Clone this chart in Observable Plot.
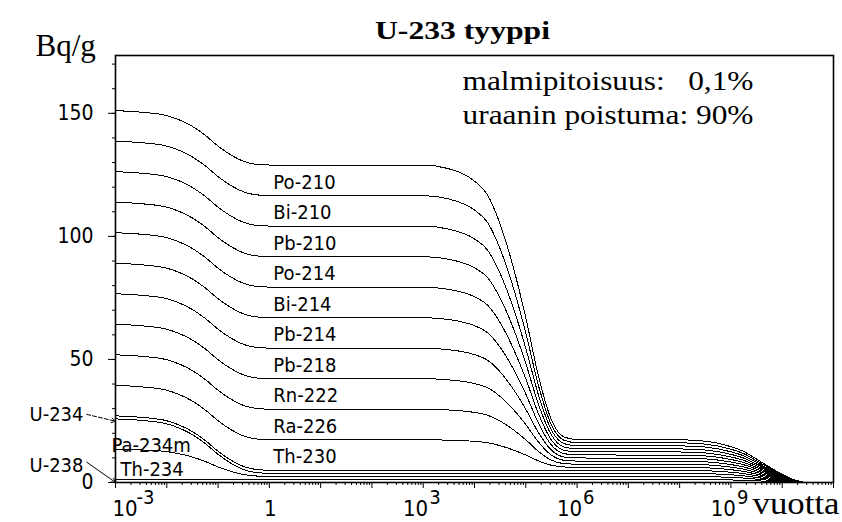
<!DOCTYPE html>
<html><head><meta charset="utf-8">
<script src="https://cdn.jsdelivr.net/npm/d3@7"></script>
<script src="https://cdn.jsdelivr.net/npm/@observablehq/plot@0.6"></script>
<style>body{margin:0;background:#fff} svg{display:block}</style>
</head><body><div id="chart"></div>
<script>
// time points (years)
const years = [1e-3, 3.16e-3, 1e-2, 1.78e-2, 3.16e-2, 5.62e-2, 0.1, 0.178, 0.316, 0.562,
  1, 10, 100, 1e3, 3.16e3, 1e4, 1.78e4, 3.16e4, 5.62e4, 1e5, 1.78e5, 3.16e5, 5.62e5,
  1e6, 1e7, 1e8, 3.16e8, 1e9, 1.78e9, 3.16e9, 5.62e9, 1e10, 1.78e10, 3.16e10, 1e11];
// activity (Bq/g) of U-238 and U-234
const uranium = [1.24, 1.24, 1.24, 1.24, 1.24, 1.24, 1.24, 1.24, 1.24, 1.24,
  1.24, 1.24, 1.24, 1.24, 1.24, 1.24, 1.24, 1.24, 1.24, 1.24, 1.24, 1.24, 1.24,
  1.24, 1.24, 1.24, 1.20, 1.04, 0.90, 0.68, 0.45, 0.24, 0.07, 0, 0];
// activity of Th-234 and Pa-234m
const thorium234 = [12.3, 12.0, 11.3, 10.4, 9.1, 7.3, 5.1, 3.3, 2.0, 1.4,
  1.26, 1.24, 1.24, 1.24, 1.24, 1.24, 1.24, 1.24, 1.24, 1.24, 1.24, 1.24, 1.24,
  1.24, 1.24, 1.24, 1.20, 1.04, 0.90, 0.68, 0.45, 0.24, 0.07, 0, 0];
// activity of each nuclide from Th-230 to Po-210
const thorium230Chain = [12.4, 12.4, 12.4, 12.4, 12.4, 12.4, 12.4, 12.4, 12.4, 12.4,
  12.4, 12.4, 12.4, 12.4, 12.25, 11.75, 11.2, 10.0, 8.3, 6.2, 3.8, 2.05, 1.35,
  1.25, 1.24, 1.24, 1.20, 1.04, 0.90, 0.68, 0.45, 0.24, 0.07, 0, 0];
// stacking order, bottom to top
const nuclides = ["U-238", "Th-234", "Pa-234m", "U-234", "Th-230", "Ra-226", "Rn-222",
  "Pb-218", "Pb-214", "Bi-214", "Po-214", "Pb-210", "Bi-210", "Po-210"];
const plateauLabels = ["Th-230", "Ra-226", "Rn-222", "Pb-218", "Pb-214", "Bi-214",
  "Po-214", "Pb-210", "Bi-210", "Po-210"];
const yTickValues = [0, 50, 100, 150];
const xLabelExponents = [-3, 0, 3, 6, 9];
const title = "U-233 tyyppi";
const infoLines = ["malmipitoisuus:\u00a0\u00a0\u00a00,1%", "uraanin poistuma: 90%"];
const yUnit = "Bq/g";
const xUnit = "vuotta";

const SANS = "'DejaVu Sans Condensed', 'DejaVu Sans', sans-serif";
const SERIF = "'Liberation Serif', 'Times New Roman', serif";

const seriesOf = {"U-238": uranium, "Th-234": thorium234, "Pa-234m": thorium234, "U-234": uranium};
const rows = nuclides.flatMap(name =>
  (seriesOf[name] || thorium230Chain).map((v, i) => ({name, t: years[i], v})));

const t0 = years[0];
const firstRows = rows.filter(d => d.t === t0);
const plateauRows = rows.filter(d => d.t === 1);
const cumAt0 = name => d3.sum(firstRows.slice(0, nuclides.indexOf(name) + 1), d => d.v);

const decades = d3.range(-3, 12).map(e => 10 ** e);
const minorX = d3.range(-3, 11).flatMap(e => d3.range(2, 10).map(k => k * 10 ** e));
const xLabels = xLabelExponents.map(e => ({t: 10 ** e, base: e === 0 ? "1" : "10", exp: e === 0 ? "" : String(e)}));
const firstLabel = xLabels.filter(d => d.t === t0);
const otherLabels = xLabels.filter(d => d.t !== t0 && d.base === "10");
const oneLabel = xLabels.filter(d => d.base === "1");

const plot = Plot.plot({
  width: 842, height: 522,
  marginLeft: 115, marginRight: 9, marginTop: 55, marginBottom: 40,
  style: {background: "white", color: "black", fontFamily: SANS, overflow: "visible"},
  x: {type: "log", domain: [1e-3, 1e11]},
  y: {domain: [0, 173.5]},
  marks: [
    Plot.axisY({ticks: d3.range(0, 171, 10), tickSize: 3, tickFormat: () => "", label: null}),
    Plot.axisY({ticks: yTickValues, tickSize: 7, tickPadding: 15, fontSize: 21, label: null}),
    Plot.axisX({ticks: minorX, tickSize: 3, tickFormat: () => "", label: null}),
    Plot.axisX({ticks: decades, tickSize: 6, tickFormat: () => "", label: null}),
    Plot.lineY(rows, Plot.stackY2({x: "t", y: "v", z: "name", curve: "monotone-x",
      stroke: "black", strokeWidth: 1, shapeRendering: "crispEdges"})),
    // plateau labels
    Plot.text(plateauRows, Plot.stackY({x: "t", y: "v", z: "name",
      text: d => plateauLabels.includes(d.name) ? d.name : null,
      textAnchor: "start", dx: 4, dy: 2, fontSize: 20})),
    Plot.text(firstRows, Plot.stackY({x: "t", y: "v", z: "name",
      text: d => d.name === "Pa-234m" ? d.name : null, textAnchor: "start", dx: -4, dy: 12, fontSize: 20})),
    Plot.text(firstRows, Plot.stackY({x: "t", y: "v", z: "name",
      text: d => d.name === "Th-234" ? d.name : null, textAnchor: "start", dx: 5, dy: 5, fontSize: 20})),
    // left annotations with arrows
    Plot.text([{t: t0, y: cumAt0("U-234"), s: "U-234"}], {x: "t", y: "y", text: "s", textAnchor: "end", dx: -32, dy: -1, fontSize: 20}),
    Plot.text([{t: t0, y: cumAt0("U-238"), s: "U-238"}], {x: "t", y: "y", text: "s", textAnchor: "end", dx: -32, dy: -14, fontSize: 20}),
    Plot.arrow([{t: t0, y: cumAt0("U-234")}], {x1: d => d.t / 10 ** 0.56, y1: d => d.y + 0.6, x2: "t", y2: d => d.y - 2.2,
      stroke: "black", strokeWidth: 1, headLength: 7, strokeDasharray: "4,2"}),
    Plot.arrow([{t: t0, y: cumAt0("U-238")}], {x1: d => d.t / 10 ** 0.56, y1: d => d.y + 7, x2: "t", y2: d => d.y - 1.2,
      stroke: "black", strokeWidth: 1, headLength: 7}),
    // x tick labels
    Plot.text(firstLabel, {x: "t", text: "base", frameAnchor: "bottom", textAnchor: "start", lineAnchor: "bottom", dx: -3, dy: 33, fontSize: 22}),
    Plot.text(firstLabel, {x: "t", text: "exp", frameAnchor: "bottom", textAnchor: "start", lineAnchor: "bottom", dx: 21, dy: 21, fontSize: 20}),
    Plot.text(otherLabels, {x: "t", text: "base", frameAnchor: "bottom", textAnchor: "end", lineAnchor: "bottom", dx: 5, dy: 33, fontSize: 22}),
    Plot.text(otherLabels, {x: "t", text: "exp", frameAnchor: "bottom", textAnchor: "start", lineAnchor: "bottom", dx: 6, dy: 21, fontSize: 20}),
    Plot.text(oneLabel, {x: "t", text: "base", frameAnchor: "bottom", textAnchor: "middle", lineAnchor: "bottom", dx: 1, dy: 33, fontSize: 22}),
    // serif texts
    Plot.text([title], {frameAnchor: "top", dx: -12, dy: -17, lineAnchor: "bottom", fontFamily: SERIF, fontWeight: "bold", fontSize: 26}),
    Plot.text([infoLines[0]], {frameAnchor: "top-left", textAnchor: "start", lineAnchor: "bottom", dx: 347, dy: 34, fontFamily: SERIF, fontSize: 28}),
    Plot.text([infoLines[1]], {frameAnchor: "top-left", textAnchor: "start", lineAnchor: "bottom", dx: 347, dy: 68, fontFamily: SERIF, fontSize: 28}),
    Plot.text([yUnit], {frameAnchor: "top-left", textAnchor: "start", lineAnchor: "bottom", dx: -80, dy: 0, fontFamily: SERIF, fontSize: 31}),
    Plot.text([xUnit], {frameAnchor: "bottom-right", textAnchor: "start", lineAnchor: "bottom", dx: -81, dy: 31, fontFamily: SERIF, fontSize: 32}),
    Plot.frame({stroke: "black", strokeWidth: 1.6})
  ]
});
document.getElementById("chart").appendChild(plot);

// the reference's serif texts are set horizontally wide
const textWidths = new Map([[title, 175], [infoLines[0], 291], [infoLines[1], 291], [xUnit, 87]]);
d3.select(plot).selectAll("text").each(function () {
  const w = textWidths.get(this.textContent);
  if (w) { this.setAttribute("textLength", w); this.setAttribute("lengthAdjust", "spacingAndGlyphs"); }
});
</script>
</body></html>
